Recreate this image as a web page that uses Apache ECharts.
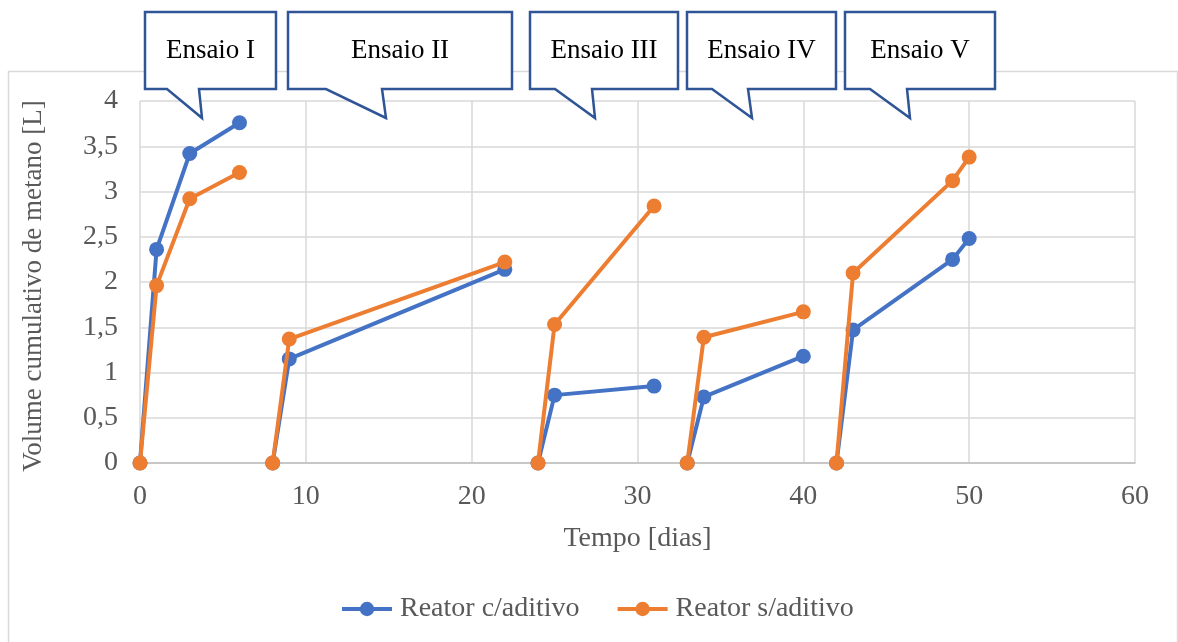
<!DOCTYPE html>
<html>
<head>
<meta charset="utf-8">
<style>
  html, body { margin: 0; padding: 0; background: #ffffff; }
  #chart { width: 1178px; height: 642px; }
</style>
<script src="https://cdn.jsdelivr.net/npm/echarts@6/dist/echarts.min.js"></script>
</head>
<body>
<div id="chart"></div>
<script>
// Days of each run (Ensaio I..V)
const ensaioDays = [[0, 1, 3, 6], [8, 9, 22], [24, 25, 31], [33, 34, 40], [42, 43, 49, 50]];
// Cumulative methane volume [L], reactor with additive
const reatorComAditivo = [[0, 2.36, 3.42, 3.76], [0, 1.15, 2.14], [0, 0.75, 0.85], [0, 0.73, 1.18], [0, 1.47, 2.25, 2.48]];
// Cumulative methane volume [L], reactor without additive
const reatorSemAditivo = [[0, 1.96, 2.92, 3.21], [0, 1.37, 2.22], [0, 1.53, 2.84], [0, 1.39, 1.67], [0, 2.10, 3.12, 3.38]];

const seriesNames = ['Reator c/aditivo', 'Reator s/aditivo'];
const seriesColors = ['#4472C4', '#ED7D31'];
const ensaioLabels = ['Ensaio I', 'Ensaio II', 'Ensaio III', 'Ensaio IV', 'Ensaio V'];
const xTicks = { min: 0, max: 60, interval: 10 };
const yTicks = { min: 0, max: 4, interval: 0.5 };

const FONT = '"Liberation Serif", "Times New Roman", serif';
const TEXT_GREY = '#595959';
const AXIS_FONT_SIZE = 28;

// Callout boxes: [left, right, pointer base left, pointer base right, tip x]
const calloutGeom = [
  [145, 276, 167, 199, 202],
  [288, 512, 326, 382, 386],
  [530, 678, 555, 592, 595],
  [687, 836, 712, 748, 752],
  [845, 995, 870, 907, 910]
];
const BOX_TOP = 12, BOX_BOTTOM = 89, TIP_Y = 118;

function makeSeries(values, idx) {
  return values.map((ys, k) => ({
    name: seriesNames[idx],
    type: 'line',
    data: ensaioDays[k].map((d, i) => [d, ys[i]]),
    symbol: 'circle',
    symbolSize: 15,
    lineStyle: { width: 4, color: seriesColors[idx] },
    itemStyle: { color: seriesColors[idx] },
    z: 3 + idx
  }));
}

const graphics = [
  {
    type: 'rect',
    shape: { x: 8.5, y: 71.5, width: 1169, height: 620 },
    style: { fill: 'none', stroke: '#d9d9d9', lineWidth: 1.5 },
    silent: true,
    z: -10
  }
];
calloutGeom.forEach((g, i) => {
  const [l, r, bl, br, tx] = g;
  graphics.push({
    type: 'polygon',
    shape: {
      points: [[l, BOX_TOP], [r, BOX_TOP], [r, BOX_BOTTOM], [br, BOX_BOTTOM], [tx, TIP_Y], [bl, BOX_BOTTOM], [l, BOX_BOTTOM]]
    },
    style: { fill: '#ffffff', stroke: '#2F5597', lineWidth: 2.5, lineJoin: 'miter' },
    z: 100
  });
  graphics.push({
    type: 'text',
    x: (l + r) / 2,
    y: 51,
    style: { text: ensaioLabels[i], font: '27px ' + FONT, fill: '#000000', align: 'center', verticalAlign: 'middle' },
    z: 101
  });
});

const chart = echarts.init(document.getElementById('chart'));
chart.setOption({
  animation: false,
  backgroundColor: '#ffffff',
  grid: { left: 140, right: 43, top: 101, bottom: 179, containLabel: false },
  xAxis: {
    type: 'value',
    min: xTicks.min, max: xTicks.max, interval: xTicks.interval,
    name: 'Tempo [dias]',
    nameLocation: 'middle',
    nameGap: 62,
    nameTextStyle: { fontFamily: FONT, fontSize: AXIS_FONT_SIZE, color: TEXT_GREY },
    axisLine: { show: true, lineStyle: { color: '#bfbfbf', width: 1.5 } },
    axisTick: { show: false },
    axisLabel: { fontFamily: FONT, fontSize: AXIS_FONT_SIZE, color: TEXT_GREY, margin: 20 },
    splitLine: { show: true, lineStyle: { color: '#d9d9d9', width: 1.5 } }
  },
  yAxis: {
    type: 'value',
    min: yTicks.min, max: yTicks.max, interval: yTicks.interval,
    name: 'Volume cumulativo de metano [L]',
    nameLocation: 'middle',
    nameGap: 93,
    nameRotate: 90,
    nameTextStyle: { fontFamily: FONT, fontSize: 27, color: TEXT_GREY, padding: [0, 8, 0, 0] },
    axisLine: { show: false },
    axisTick: { show: false },
    axisLabel: {
      fontFamily: FONT, fontSize: AXIS_FONT_SIZE, color: TEXT_GREY, margin: 22,
      formatter: v => String(v).replace('.', ',')
    },
    splitLine: { show: true, lineStyle: { color: '#d9d9d9', width: 1.5 } }
  },
  legend: {
    data: seriesNames,
    bottom: 14,
    left: 335,
    itemWidth: 50,
    itemHeight: 18,
    itemGap: 36,
    lineStyle: { width: 4 },
    textStyle: { fontFamily: FONT, fontSize: AXIS_FONT_SIZE, color: TEXT_GREY, padding: [0, 0, 0, 3] }
  },
  series: [...makeSeries(reatorComAditivo, 0), ...makeSeries(reatorSemAditivo, 1)],
  graphic: graphics
});
</script>
</body>
</html>
